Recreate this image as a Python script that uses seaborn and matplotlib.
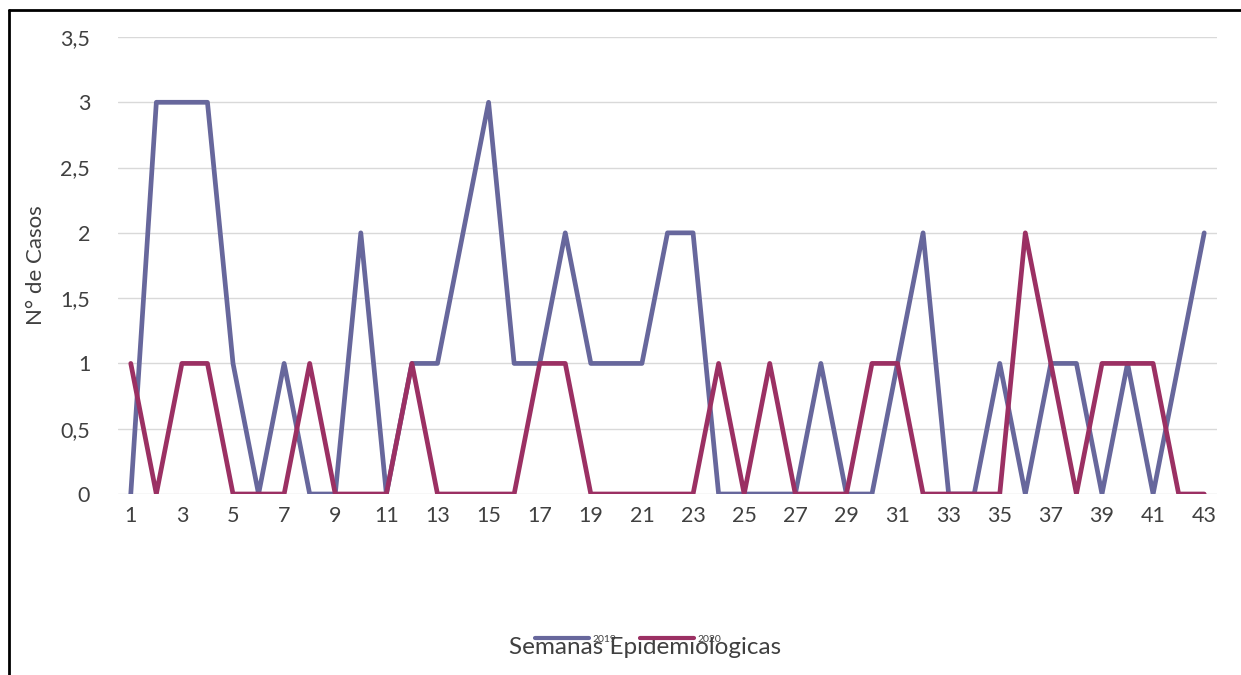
import pandas as pd
import numpy as np
import matplotlib
matplotlib.use("Agg")
import matplotlib.pyplot as plt
import seaborn as sns
from matplotlib.lines import Line2D

# -----------------------------
# Data
# -----------------------------
weeks = list(range(1, 44))
cases_2019 = [0, 3, 3, 3, 1, 0, 1, 0, 0, 2,
              0, 1, 1, 2, 3, 1, 1, 2, 1, 1,
              1, 2, 2, 0, 0, 0, 0, 1, 0, 0,
              1, 2, 0, 0, 1, 0, 1, 1, 0, 1,
              0, 1, 2]
cases_2020 = [1, 0, 1, 1, 0, 0, 0, 1, 0, 0,
              0, 1, 0, 0, 0, 0, 1, 1, 0, 0,
              0, 0, 0, 1, 0, 1, 0, 0, 0, 1,
              1, 0, 0, 0, 0, 2, 1, 0, 1, 1,
              1, 0, 0]
series_names = ["2019", "2020"]
y_ticks = [0, 0.5, 1, 1.5, 2, 2.5, 3, 3.5]
y_tick_labels = ["0", "0,5", "1", "1,5", "2", "2,5", "3", "3,5"]
x_ticks = weeks[::2]

df = pd.DataFrame({
    "week": weeks * 2,
    "cases": cases_2019 + cases_2020,
    "year": [series_names[0]] * len(weeks) + [series_names[1]] * len(weeks),
})

# -----------------------------
# Styling
# -----------------------------
COLORS = {"2019": "#67679C", "2020": "#9B3063"}
TEXT_COLOR = "#404040"
FONT = ["Lato", "DejaVu Sans"]

sns.set_style("white")
plt.rcParams["font.family"] = FONT

fig = plt.figure(figsize=(12.41, 6.75), dpi=100)
ax = fig.add_axes([118 / 1241, 1 - 494 / 675, (1217 - 118) / 1241, (494 - 37) / 675])

sns.lineplot(data=df, x="week", y="cases", hue="year", palette=COLORS,
             linewidth=3.4, ax=ax, legend=False)

ax.set_xlim(0.5, 43.5)
ax.set_ylim(0, 3.5)
ax.set_yticks(y_ticks)
ax.set_yticklabels(y_tick_labels)
ax.set_xticks(x_ticks)
ax.set_xticklabels([str(w) for w in x_ticks])
ax.tick_params(axis="both", length=0, labelsize=15.5, labelcolor=TEXT_COLOR)
ax.tick_params(axis="x", pad=9)
ax.tick_params(axis="y", pad=20)
ax.yaxis.grid(True, color="#D9D9D9", linewidth=1)
ax.set_axisbelow(True)
for s in ax.spines.values():
    s.set_visible(False)
ax.set_xlabel("")
ax.set_ylabel("N° de Casos", fontsize=16, color=TEXT_COLOR, labelpad=10)

fig.text(645 / 1241, 1 - 648 / 675, "Semanas Epidemiologicas", ha="center", va="center",
         fontsize=17.5, color=TEXT_COLOR)

handles = [Line2D([], [], color=COLORS[n], linewidth=3) for n in series_names]
fig.legend(handles, series_names, loc="center", bbox_to_anchor=(628 / 1241, 1 - 639 / 675),
           ncol=2, frameon=False, fontsize=7.5, handlelength=5.2, handletextpad=0.3,
           columnspacing=2.3, labelcolor=TEXT_COLOR)

# outer frame (left and top edge visible)
fig.add_artist(Line2D([9 / 1241, 9 / 1241], [0, 1 - 10 / 675], color="black", linewidth=2,
                      transform=fig.transFigure))
fig.add_artist(Line2D([9 / 1241, 1], [1 - 10 / 675, 1 - 10 / 675], color="black", linewidth=2,
                      transform=fig.transFigure))

fig.savefig("out.png", dpi=100)
